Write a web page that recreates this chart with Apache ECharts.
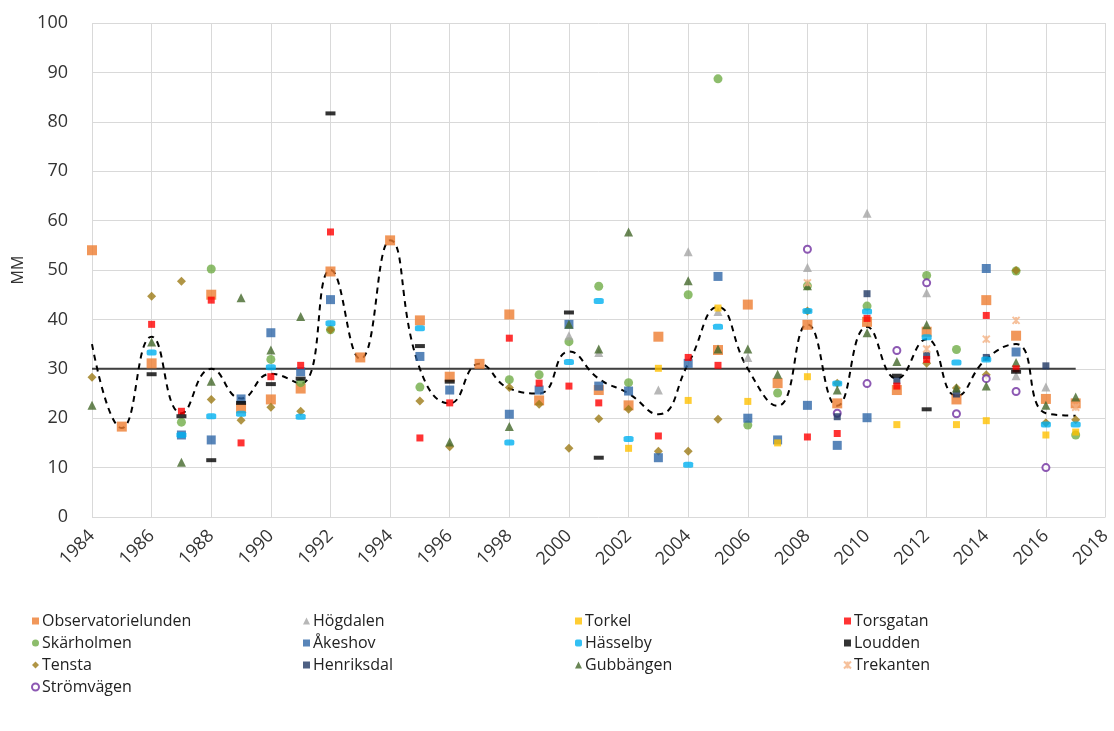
<!DOCTYPE html>
<html>
<head>
<meta charset="utf-8">
<script src="https://cdn.jsdelivr.net/npm/echarts@6/dist/echarts.min.js"></script>
<style>
    html, body {margin:0;padding:0;background:#fff;}
    #chart {width:1114px;height:731px;}
</style>
</head>
<body>
<div id="chart"></div>
<script>
    // [year, MM]
    var observatorielunden = [[1984,54],[1985,18.3],[1986,31.1],[1988,45],[1989,22],[1990,23.8],[1991,26],[1992,49.7],[1993,32.3],[1994,56],[1995,39.8],[1996,28.4],[1997,31],[1998,41],[1999,23.6],[2001,25.7],[2002,22.6],[2003,36.5],[2005,33.8],[2006,43],[2007,27.1],[2008,38.9],[2009,23],[2010,39.5],[2011,25.7],[2012,37.5],[2013,23.8],[2014,43.9],[2015,36.7],[2016,23.9],[2017,23]];
    var skarholmen = [[1987,19.2],[1988,50.2],[1990,31.9],[1991,27.2],[1992,37.9],[1995,26.3],[1998,27.8],[1999,28.8],[2000,35.5],[2001,46.7],[2002,27.2],[2004,45],[2005,88.7],[2006,18.6],[2007,25.1],[2008,46.8],[2010,42.7],[2012,48.9],[2013,33.9],[2015,49.8],[2017,16.6]];
    var tensta = [[1984,28.3],[1986,44.7],[1987,47.7],[1988,23.8],[1989,19.6],[1990,22.2],[1991,21.4],[1992,37.9],[1995,23.5],[1996,14.2],[1998,26.2],[1999,22.8],[2000,13.9],[2001,19.9],[2002,21.8],[2003,13.3],[2004,13.3],[2005,19.8],[2008,41.7],[2009,27.1],[2012,31.1],[2013,26.1],[2014,28.8],[2015,49.9],[2016,19.1],[2017,19.7]];
    var stromvagen = [[2008,54.2],[2009,21],[2010,27],[2011,33.7],[2012,47.4],[2013,20.9],[2014,28],[2015,25.4],[2016,10]];
    var hogdalen = [[2000,36.7],[2001,33.3],[2003,25.7],[2004,53.7],[2005,41.6],[2006,32.3],[2008,50.5],[2010,61.5],[2012,45.4],[2015,28.6],[2016,26.3]];
    var akeshov = [[1987,16.6],[1988,15.6],[1989,23.9],[1990,37.3],[1991,29.4],[1992,44],[1995,32.5],[1996,25.7],[1998,20.8],[1999,25.7],[2000,39],[2001,26.5],[2002,25.5],[2003,12],[2004,31.1],[2005,48.7],[2006,20],[2007,15.6],[2008,22.6],[2009,14.5],[2010,20.1],[2014,50.3],[2015,33.4]];
    var henriksdal = [[2009,20.3],[2010,45.2],[2011,27.6],[2012,32.7],[2013,24.9],[2014,32.3],[2016,30.6]];
    var torkel = [[2002,13.9],[2003,30.1],[2004,23.6],[2005,42.3],[2006,23.4],[2007,15],[2008,28.4],[2011,18.7],[2013,18.7],[2014,19.5],[2016,16.6],[2017,17.2]];
    var hasselby = [[1986,33.3],[1987,16.6],[1988,20.4],[1989,20.9],[1990,30.3],[1991,20.3],[1992,39.2],[1995,38.2],[1998,15.1],[2000,31.4],[2001,43.7],[2002,15.8],[2004,10.6],[2005,38.5],[2008,41.7],[2009,27],[2010,41.6],[2012,36.4],[2013,31.3],[2014,31.9],[2016,18.7],[2017,18.7]];
    var gubbangen = [[1984,22.6],[1986,35.4],[1987,11.1],[1988,27.5],[1989,44.4],[1990,33.8],[1991,40.6],[1996,15.2],[1998,18.3],[2000,39],[2001,34],[2002,57.7],[2004,47.8],[2005,34],[2006,34],[2007,28.9],[2008,46.8],[2009,25.7],[2010,37.3],[2011,31.5],[2012,38.9],[2013,26.1],[2014,26.5],[2015,31.3],[2016,22.6],[2017,24.3]];
    var torsgatan = [[1986,39],[1987,21.4],[1988,43.9],[1989,15],[1990,28.4],[1991,30.7],[1992,57.7],[1995,16],[1996,23.1],[1998,36.2],[1999,27.1],[2000,26.5],[2001,23.1],[2003,16.4],[2004,32.3],[2005,30.7],[2008,16.2],[2009,16.9],[2010,40.2],[2011,26.5],[2012,31.9],[2014,40.8],[2015,30]];
    var loudden = [[1986,28.9],[1987,20.4],[1988,11.5],[1989,23.1],[1990,26.9],[1991,28],[1992,81.7],[1995,34.6],[1996,27.4],[2000,41.4],[2001,12],[2011,28.6],[2012,21.8],[2015,29.4]];
    var trekanten = [[2008,47.4],[2012,34],[2014,36],[2015,39.8],[2017,22.2]];
    var meanLine = [[1984,35],[1985,18],[1986,36.5],[1987,21],[1988,30],[1989,24],[1990,29],[1991,27],[1992,50],[1993,32],[1994,56],[1995,30],[1996,23],[1997,31],[1998,26],[1999,25],[2000,33.5],[2001,28],[2002,25],[2003,20.8],[2004,31],[2005,42.5],[2006,30],[2007,22.5],[2008,39],[2009,22.5],[2010,38.5],[2011,28],[2012,36],[2013,24.5],[2014,32],[2015,35],[2016,21],[2017,20.5]];
    var limitLine = [[1984,30],[2017,30]];

    var chart = echarts.init(document.getElementById('chart'));
    var cross = 'path://M0,0L10,10M10,0L0,10M5,0L5,10';

    function pts(name, data, symbol, size, color, extra) {
        var s = {
            name: name, type: 'scatter', data: data, symbol: symbol, symbolSize: size,
            itemStyle: {color: color}, z: 3
        };
        if (extra) Object.assign(s.itemStyle, extra);
        return s;
    }

    var series = [
        {name: 'limit', type: 'line', data: limitLine, symbol: 'none', lineStyle: {color: '#404040', width: 2}, z: 2, silent: true},
        {name: 'mean', type: 'line', data: meanLine, symbol: 'none', smooth: 0.5, lineStyle: {color: '#000', width: 2, type: [6, 5]}, z: 2, silent: true},
        pts('Observatorielunden', observatorielunden, 'rect', 10, '#ED7D31'),
        pts('Skärholmen', skarholmen, 'circle', 9, '#70AD47'),
        pts('Tensta', tensta, 'diamond', 9, '#9C7A16'),
        pts('Strömvägen', stromvagen, 'emptyCircle', 7, '#7030A0', {borderColor: '#7030A0', borderWidth: 2}),
        pts('Högdalen', hogdalen, 'triangle', 9, '#A5A5A5'),
        pts('Åkeshov', akeshov, 'rect', 9, '#2E67A8'),
        pts('Henriksdal', henriksdal, 'rect', 7, '#203864'),
        pts('Torkel', torkel, 'rect', 7, '#FFC000'),
        pts('Hässelby', hasselby, 'roundRect', [10, 6], '#00B0F0'),
        pts('Gubbängen', gubbangen, 'triangle', 9, '#43682B'),
        pts('Torsgatan', torsgatan, 'rect', 7, '#FF0000'),
        pts('Loudden', loudden, 'rect', [10, 4], '#000'),
        pts('Trekanten', trekanten, cross, 7, '#F4B183', {borderColor: '#F4B183', borderWidth: 2})
    ];

    function legendCol(names, left) {
        return {
            data: names, orient: 'vertical', left: left, top: 608, itemGap: 6,
            itemWidth: 7, itemHeight: 7, selectedMode: false,
            textStyle: {fontFamily: 'Open Sans', fontSize: 16, color: '#222', padding: [0, 0, 0, -2]}
        };
    }

    var option = {
        animation: false,
        grid: {left: 92, right: 5, top: 23, bottom: 214},
        legend: [
            legendCol(['Observatorielunden', 'Skärholmen', 'Tensta', 'Strömvägen'], 26),
            legendCol(['Högdalen', 'Åkeshov', 'Henriksdal'], 298),
            legendCol(['Torkel', 'Hässelby', 'Gubbängen'], 570),
            legendCol(['Torsgatan', 'Loudden', 'Trekanten'], 838)
        ],
        xAxis: {
            type: 'value', min: 1984, max: 2018, interval: 2,
            axisLine: {show: false}, axisTick: {show: false},
            splitLine: {lineStyle: {color: '#d9d9d9'}},
            axisLabel: {rotate: 45, fontFamily: 'Open Sans', fontSize: 18, color: '#333', margin: 16,
                formatter: function (v) { return String(v); }}
        },
        yAxis: {
            type: 'value', min: 0, max: 100, interval: 10,
            name: 'MM', nameLocation: 'middle', nameGap: 60, nameRotate: 90,
            nameTextStyle: {fontFamily: 'Open Sans', fontSize: 16, color: '#333'},
            axisLine: {show: false}, axisTick: {show: false},
            splitLine: {lineStyle: {color: '#d9d9d9'}},
            axisLabel: {fontFamily: 'Open Sans', fontSize: 18, color: '#333', margin: 24}
        },
        series: series
    };
    chart.setOption(option);
</script>
</body>
</html>
